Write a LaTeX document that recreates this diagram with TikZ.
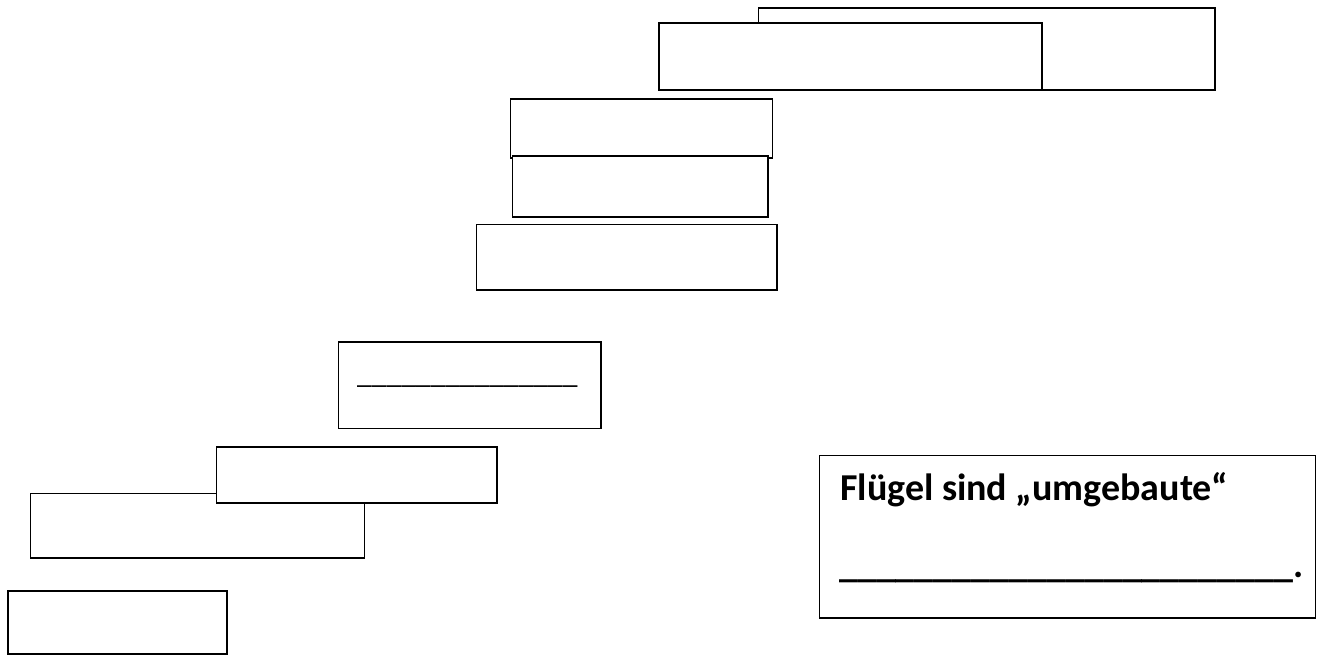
\documentclass[tikz,border=0pt]{standalone}
\usepackage{fontspec}
\setmainfont{Carlito}
\begin{document}
\begin{tikzpicture}[x=1pt,y=-1pt,
  box/.style={draw, line width=1.8pt, fill=white, inner sep=0pt, anchor=north west},
  lbl/.style={inner sep=0pt, anchor=base west}]
\useasboundingbox (0,0) rectangle (1324,655);
\node[box, minimum width=456.5pt, minimum height=82pt] (b1) at (757.5,7) {};
\node[box, minimum width=383pt, minimum height=66.5pt] (b2) at (658,22.5) {};
\node[box, minimum width=262pt, minimum height=58.5pt] (b3) at (509.5,98.5) {};
\node[box, minimum width=255.5pt, minimum height=60.5pt] (b4) at (511.5,155.5) {};
\node[box, minimum width=300.5pt, minimum height=65.5pt] (b5) at (475.5,223.5) {};
\node[box, minimum width=262.5pt, minimum height=86.5pt] (b6) at (337.5,341) {};
\node[box, minimum width=334pt, minimum height=64.5pt] (b8) at (29.5,492.5) {};
\node[box, minimum width=280.5pt, minimum height=56pt] (b7) at (215.5,446) {};
\node[box, minimum width=219pt, minimum height=63pt] (b9) at (7,590) {};
\node[box, minimum width=496pt, minimum height=162.5pt] (b10) at (818.5,454.5) {};
\node[lbl, font=\fontsize{29.5}{30}\selectfont] (t6) at (357,383) {\_\_\_\_\_\_\_\_\_\_\_\_\_\_\_};
\node[lbl, font=\fontsize{38}{38}\selectfont\bfseries] (t10a) at (840,500) {Flügel sind „umgebaute“};
\node[lbl, font=\fontsize{38}{38}\selectfont\bfseries] (t10b) at (839,577) {\_\_\_\_\_\_\_\_\_\_\_\_\_\_\_\_\_\_\_\_\_\_\_\_.};
\end{tikzpicture}
\end{document}
